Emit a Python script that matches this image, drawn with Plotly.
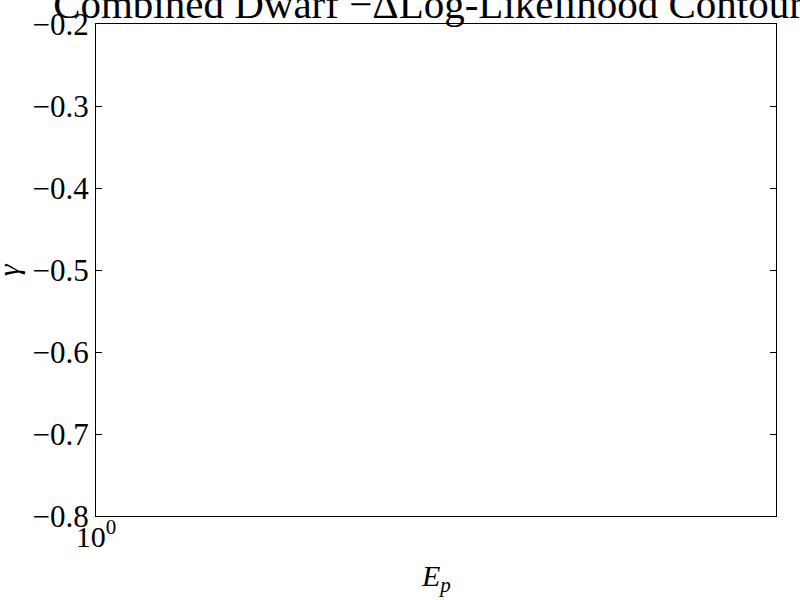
import plotly.graph_objects as go

title_text = "Combined Dwarf −ΔLog-Likelihood Contours"
x_label = "<i>E</i><sub><i>p</i></sub>"
y_label = "<i>γ</i>"
x_tick_vals = [1]
x_tick_text = ["10<sup>0</sup>"]
y_tick_vals = [-0.8, -0.7, -0.6, -0.5, -0.4, -0.3, -0.2]
y_tick_text = ["−0.8", "−0.7", "−0.6", "−0.5", "−0.4", "−0.3", "−0.2"]
x_range_log = [0, 1]
y_range = [-0.8, -0.2]

font_family = "Liberation Serif, Times New Roman, serif"

fig = go.Figure()
fig.add_trace(go.Scatter(x=[], y=[], mode="lines", showlegend=False))

fig.update_layout(
    width=800, height=600,
    margin=dict(l=96, r=24, t=24, b=84, autoexpand=False),
    paper_bgcolor="white", plot_bgcolor="white",
    font=dict(family=font_family, color="black", size=30),
    title=dict(text=title_text, x=436/800, xanchor="center",
               y=1 - 18/600, yanchor="bottom", yref="container",
               font=dict(size=41, family=font_family, color="black")),
    showlegend=False,
)
fig.update_xaxes(
    type="log", range=x_range_log, automargin=False,
    tickvals=x_tick_vals, ticktext=x_tick_text,
    ticks="inside", ticklen=6, tickcolor="black",
    ticklabelstandoff=-6,
    showline=True, linecolor="black", linewidth=1, mirror="ticks",
    showgrid=False, zeroline=False,
    tickfont=dict(size=30, family=font_family),
)
fig.update_yaxes(
    range=y_range, automargin=False,
    tickvals=y_tick_vals, ticktext=y_tick_text,
    ticks="inside", ticklen=6, tickcolor="black",
    showline=True, linecolor="black", linewidth=1, mirror="ticks",
    showgrid=False, zeroline=False,
    tickfont=dict(size=31, family=font_family),
)
fig.add_annotation(text=x_label, xref="paper", yref="paper",
                   x=0.5, y=-0.126, xanchor="center", yanchor="middle",
                   showarrow=False, font=dict(size=30, family=font_family))
fig.add_annotation(text=y_label, xref="paper", yref="paper",
                   x=-0.129, y=0.5, xanchor="center", yanchor="middle",
                   textangle=-90, showarrow=False,
                   font=dict(size=30, family=font_family))

fig.write_html("out.html")
